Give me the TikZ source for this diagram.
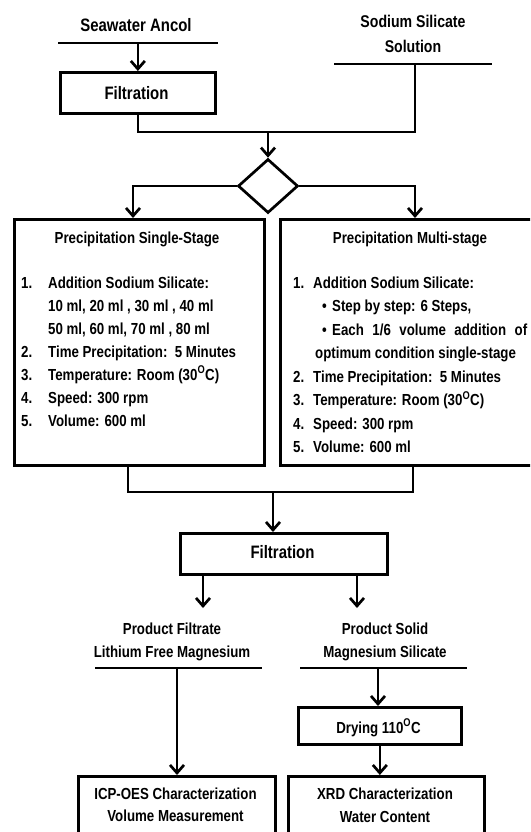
\documentclass[tikz,border=0pt]{standalone}
\usepackage{fontspec}
\setmainfont{Liberation Sans}[FakeStretch=0.83]
\usetikzlibrary{arrows.meta,shapes.geometric}
\newcommand{\fsA}{\fontsize{16}{23}\selectfont\bfseries}
\newcommand{\fsB}{\fontsize{18}{23}\selectfont\bfseries}
\newcommand{\fsC}{\fontsize{17}{23}\selectfont\bfseries}
\begin{document}
\begin{tikzpicture}[x=1pt,y=-1pt,
  ln/.style={line width=2.7pt},
  arr/.style={line width=2.7pt,-{Straight Barb[length=8pt,width=14pt]}},
  box/.style={draw,line width=2.7pt,inner sep=0pt,anchor=north west},
  lt/.style={inner sep=0pt,anchor=base west,font=\fsA},
  ct/.style={inner sep=0pt,anchor=base,font=\fsA},
  bt/.style={inner sep=0pt,anchor=base,font=\fsB},
  st/.style={inner sep=0pt,anchor=base,font=\fsC}]
\useasboundingbox (0,0) rectangle (530,832);
\begin{scope}
\clip (0,0) rectangle (530,832);
% top labels
\node[bt] (sea) at (136,31.5) {Seawater Ancol};
\node[st] (sod1) at (413,28) {Sodium Silicate};
\node[st] (sod2) at (413,53) {Solution};
\coordinate (seaL) at (58,43);
\coordinate (seaR) at (218,43);
\draw[ln] (seaL) -- (seaR);
\coordinate (sodL) at (334,64);
\coordinate (sodR) at (492,64);
\coordinate (sodM) at (415,64);
\draw[ln] (sodL) -- (sodR);
% filtration 1
\node[box,minimum width=155pt,minimum height=41pt] (f1) at (59,71) {};
\node[bt] (f1t) at (136.5,99.5) {Filtration};
\draw[arr] (f1.north |- seaL) -- (f1.north);
\coordinate (j1) at (268,132);
\draw[ln] (f1.south) |- (j1 -| sodM) -- (sodM);
% diamond
\node[draw,diamond,line width=2.7pt,minimum width=60pt,minimum height=54pt,inner sep=0pt] (dia) at (268,186) {};
\draw[arr] (j1) -- (dia.north);
% boxes
\node[box,minimum width=250pt,minimum height=246pt] (lbox) at (13,218) {};
\node[box,minimum width=300pt,minimum height=246pt] (rbox) at (279,218) {};
\coordinate (lin) at (133,218);
\coordinate (rin) at (415,218);
\draw[arr] (dia.west) -| (lin);
\draw[arr] (dia.east) -| (rin);
% left list
\node[ct] (lt0) at (137,243) {Precipitation Single-Stage};
\node[lt] (ln1) at (21,288) {1.};
\node[lt] (lt1) at (48,288) {Addition Sodium Silicate:};
\node[lt] (lt1a) at (48,311) {10 ml, 20 ml , 30 ml , 40 ml};
\node[lt] (lt1b) at (48,334) {50 ml, 60 ml, 70 ml , 80 ml};
\node[lt] (ln2) at (21,357) {2.};
\node[lt] (lt2) at (48,357) {Time Precipitation:\ \ 5 Minutes};
\node[lt] (ln3) at (21,380) {3.};
\node[lt] (lt3) at (48,380) {Temperature: Room (30\textsuperscript{O}C)};
\node[lt] (ln4) at (21,403) {4.};
\node[lt] (lt4) at (48,403) {Speed: 300 rpm};
\node[lt] (ln5) at (21,426) {5.};
\node[lt] (lt5) at (48,426) {Volume: 600 ml};
% right list
\node[ct] (rt0) at (410,243) {Precipitation Multi-stage};
\node[lt] (rn1) at (293,288) {1.};
\node[lt] (rt1) at (313,288) {Addition Sodium Silicate:};
\node[lt] (rb1) at (322,311.5) {\textbullet};
\node[lt] (rt1a) at (332,311.5) {Step by step: 6 Steps,};
\node[lt] (rb2) at (322,335) {\textbullet};
\node[lt] (rt1b) at (332,335) {\makebox[195pt][s]{Each 1/6 volume addition of}};
\node[lt] (rt1c) at (315,358.5) {optimum condition single-stage};
\node[lt] (rn2) at (293,382) {2.};
\node[lt] (rt2) at (313,382) {Time Precipitation:\ \ 5 Minutes};
\node[lt] (rn3) at (293,405.5) {3.};
\node[lt] (rt3) at (313,405.5) {Temperature: Room (30\textsuperscript{O}C)};
\node[lt] (rn4) at (293,429) {4.};
\node[lt] (rt4) at (313,429) {Speed: 300 rpm};
\node[lt] (rn5) at (293,452.5) {5.};
\node[lt] (rt5) at (313,452.5) {Volume: 600 ml};
% join
\coordinate (lout) at (128,464);
\coordinate (rout) at (413,464);
\coordinate (j2) at (273,492);
\draw[ln] (lout) |- (rout |- j2) -- (rout);
\node[box,minimum width=207pt,minimum height=41pt] (f2) at (179,532) {};
\node[bt] (f2t) at (282.5,558.5) {Filtration};
\draw[arr] (j2) -- (j2 |- f2.north);
\coordinate (pfA) at (203,608);
\coordinate (psA) at (357,608);
\draw[arr] (pfA |- f2.south) -- (pfA);
\draw[arr] (psA |- f2.south) -- (psA);
% products
\node[ct] (pf1) at (172,634) {Product Filtrate};
\node[ct] (pf2) at (172,657) {Lithium Free Magnesium};
\node[ct] (ps1) at (385,634) {Product Solid};
\node[ct] (ps2) at (385,657) {Magnesium Silicate};
\coordinate (pfL) at (95,668);
\coordinate (pfR) at (262,668);
\coordinate (psL) at (300,668);
\coordinate (psR) at (467,668);
\draw[ln] (pfL) -- (pfR);
\draw[ln] (psL) -- (psR);
\coordinate (pfM) at (177,668);
\coordinate (psM) at (378,668);
% lower boxes
\node[box,minimum width=163pt,minimum height=37pt] (dry) at (297,706) {};
\node[ct] (dryt) at (378.5,733) {Drying 110\textsuperscript{O}C};
\node[box,minimum width=197pt,minimum height=80pt] (icp) at (77,775) {};
\node[box,minimum width=196pt,minimum height=80pt] (xrd) at (287,775) {};
\node[ct] (icp1) at (175.5,799) {ICP-OES Characterization};
\node[ct] (icp2) at (175.5,821) {Volume Measurement};
\node[ct] (xrd1) at (385,799) {XRD Characterization};
\node[ct] (xrd2) at (385,822) {Water Content};
\draw[arr] (pfM) -- (pfM |- icp.north);
\draw[arr] (psM) -- (psM |- dry.north);
\draw[arr] (dry.south) -- (dry.south |- xrd.north);
\end{scope}
\end{tikzpicture}
\end{document}
